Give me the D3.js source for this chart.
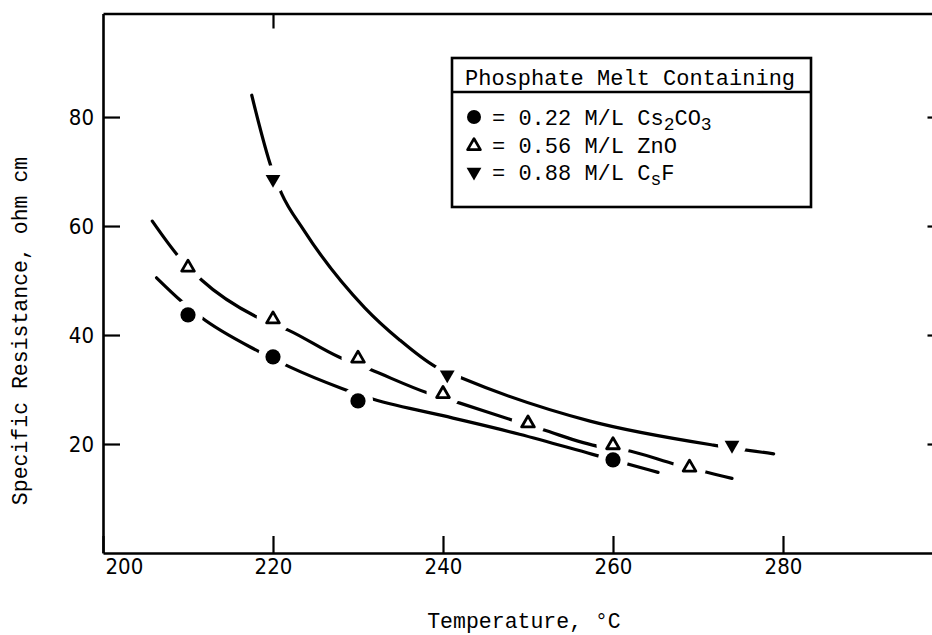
<!DOCTYPE html>
<html>
<head>
<meta charset="utf-8">
<script src="https://cdn.jsdelivr.net/npm/d3@7"></script>
<style>
  body { margin: 0; background: #fff; }
  svg { display: block; background: #fff; }
  .mono { font-family: "Liberation Mono", "DejaVu Sans Mono", monospace; fill: #000; }
  .axis text { font-family: "Liberation Sans Narrow", "DejaVu Sans Condensed", sans-serif; font-size: 22px; fill: #000; }
  .axis path, .axis line { stroke: #000; }
</style>
</head>
<body>
<svg id="chart" width="932" height="635"></svg>
<script>
//measured points, temperature in C and resistance in ohm cm
const cs2co3Temp = [210, 220, 230, 260];
const cs2co3Res = [43.7, 36.0, 27.9, 17.1];
const znoTemp = [210, 220, 230, 240, 250, 260, 269];
const znoRes = [52.4, 42.9, 35.7, 29.2, 23.8, 19.8, 15.7];
const csfTemp = [220, 240.5, 274];
const csfRes = [68.6, 32.7, 19.8];

//hand drawn curves
const cs2co3CurveT = [206.3, 209.3, 211.5, 218.3, 221.9, 228.1, 231.2, 240, 249, 257.6, 265.3];
const cs2co3CurveR = [50.5, 46.1, 43.3, 37.0, 34.2, 30.2, 28.5, 25.2, 21.8, 18.1, 14.8];
const znoCurveT = [205.8, 208.9, 211.6, 218.1, 221.8, 227.7, 231.4, 238.3, 242.0, 248.1, 251.6, 258.5, 261.4, 267.5, 274.0];
const znoCurveR = [60.9, 54.4, 50.1, 43.3, 40.9, 36.0, 33.7, 29.3, 27.5, 24.4, 22.7, 19.5, 18.9, 16.2, 13.7];
const csfCurveT = [217.5, 219.9, 221.0, 223.6, 230.8, 234.9, 239.1, 242.2, 257.3, 271.8, 278.9];
const csfCurveR = [84.0, 70.3, 66.0, 59.3, 45.0, 39.1, 34.2, 32.1, 24.2, 19.8, 18.2];

const xTicks = [200, 220, 240, 260, 280];
const yTicks = [20, 40, 60, 80];
const topTicks = [220];

const legendTitle = "Phosphate Melt Containing";
//[text, is subscript]
const legendLabels = [
  [["= 0.22 M/L Cs", 0], ["2", 1], ["CO", 0], ["3", 1]],
  [["= 0.56 M/L ZnO", 0]],
  [["= 0.88 M/L C", 0], ["s", 1], ["F", 0]]
];

const svg = d3.select("#chart");

const x = d3.scaleLinear().domain([200, 299]).range([103, 944.5]);
const y = d3.scaleLinear().domain([0, 99]).range([553, 13.5]);

const zip = (a, b) => a.map((v, i) => [v, b[i]]);

//axes, ticks point inward
const addAxis = (axis, transform) => {
  const g = svg.append("g").attr("class", "axis").attr("transform", transform).call(axis);
  g.select(".domain").attr("stroke-width", 2.6);
  g.selectAll(".tick line").attr("stroke-width", 2.2);
  return g;
};

const bottom = addAxis(
  d3.axisBottom(x).tickValues(xTicks).tickSize(-17).tickSizeOuter(0).tickPadding(5).tickFormat(d3.format("d")),
  `translate(0,${y(0)})`
);
bottom.selectAll(".tick text").filter((d) => d === 200).attr("text-anchor", "start").attr("x", 2);

addAxis(
  d3.axisLeft(y).tickValues(yTicks).tickSize(-17).tickSizeOuter(0).tickPadding(9),
  `translate(${x(200)},0)`
);
addAxis(
  d3.axisTop(x).tickValues(topTicks).tickSize(-15).tickSizeOuter(0).tickFormat(""),
  `translate(0,${y(99)})`
);
addAxis(
  d3.axisRight(y).tickValues(yTicks).tickSize(-17).tickSizeOuter(0).tickFormat(""),
  `translate(${x(299)},0)`
);

//each curve is broken around its own markers
const defs = svg.append("defs");
const line = d3.line().x((d) => x(d[0])).y((d) => y(d[1])).curve(d3.curveMonotoneX);

const drawCurve = (id, curve, pts, gap) => {
  const m = defs.append("mask").attr("id", id).attr("maskUnits", "userSpaceOnUse")
    .attr("x", 0).attr("y", 0).attr("width", 932).attr("height", 635);
  m.append("rect").attr("width", 932).attr("height", 635).attr("fill", "white");
  m.selectAll("circle").data(pts).join("circle")
    .attr("cx", (d) => x(d[0])).attr("cy", (d) => y(d[1])).attr("r", gap).attr("fill", "black");
  svg.append("path")
    .datum(curve)
    .attr("d", line)
    .attr("fill", "none")
    .attr("stroke", "#000")
    .attr("stroke-width", 3.2)
    .attr("stroke-linecap", "round")
    .attr("mask", `url(#${id})`);
};

const cs2co3Pts = zip(cs2co3Temp, cs2co3Res);
const znoPts = zip(znoTemp, znoRes);
const csfPts = zip(csfTemp, csfRes);

drawCurve("m-cs2co3", zip(cs2co3CurveT, cs2co3CurveR), cs2co3Pts, 15);
drawCurve("m-zno", zip(znoCurveT, znoCurveR), znoPts, 16.5);
drawCurve("m-csf", zip(csfCurveT, csfCurveR), csfPts, 14);

//markers
const triUp = d3.symbol().type(d3.symbolTriangle).size(70);
const triDown = d3.symbol().type(d3.symbolTriangle).size(95);

svg.append("g").selectAll("circle").data(cs2co3Pts).join("circle")
  .attr("cx", (d) => x(d[0])).attr("cy", (d) => y(d[1])).attr("r", 7.6).attr("fill", "#000");

svg.append("g").selectAll("path").data(znoPts).join("path")
  .attr("d", triUp)
  .attr("transform", (d) => `translate(${x(d[0])},${y(d[1])})`)
  .attr("fill", "#fff").attr("stroke", "#000").attr("stroke-width", 2.8).attr("stroke-linejoin", "round");

svg.append("g").selectAll("path").data(csfPts).join("path")
  .attr("d", triDown)
  .attr("transform", (d) => `translate(${x(d[0])},${y(d[1])}) rotate(180)`)
  .attr("fill", "#000");

//legend box
const lg = svg.append("g");
lg.append("rect").attr("x", 452).attr("y", 58).attr("width", 359).attr("height", 149)
  .attr("fill", "#fff").attr("stroke", "#000").attr("stroke-width", 2.6);
lg.append("line").attr("x1", 452).attr("x2", 811).attr("y1", 92).attr("y2", 92)
  .attr("stroke", "#000").attr("stroke-width", 2.4);
lg.append("text").attr("class", "mono").attr("x", 465).attr("y", 85)
  .attr("font-size", 22).text(legendTitle);

const rowY = [125, 153, 180];
lg.append("circle").attr("cx", 474).attr("cy", rowY[0] - 8).attr("r", 7).attr("fill", "#000");
lg.append("path").attr("d", triUp).attr("transform", `translate(474,${rowY[1] - 7})`)
  .attr("fill", "#fff").attr("stroke", "#000").attr("stroke-width", 2.8).attr("stroke-linejoin", "round");
lg.append("path").attr("d", triDown).attr("transform", `translate(474,${rowY[2] - 8}) rotate(180)`)
  .attr("fill", "#000");

legendLabels.forEach((parts, i) => {
  const t = lg.append("text").attr("class", "mono").attr("x", 492).attr("y", rowY[i]).attr("font-size", 22);
  parts.forEach(([s, sub], j) => {
    const prevSub = j > 0 && parts[j - 1][1];
    t.append("tspan")
      .attr("font-size", sub ? 18 : 22)
      .attr("dy", (sub ? 5 : 0) - (prevSub ? 5 : 0))
      .text(s);
  });
});

//axis titles
svg.append("text").attr("class", "mono").attr("x", 524).attr("y", 628)
  .attr("text-anchor", "middle").attr("font-size", 21.5).text("Temperature, °C");
svg.append("text").attr("class", "mono")
  .attr("transform", "translate(27,331) rotate(-90)")
  .attr("text-anchor", "middle").attr("font-size", 21.5).text("Specific Resistance, ohm cm");
</script>
</body>
</html>
